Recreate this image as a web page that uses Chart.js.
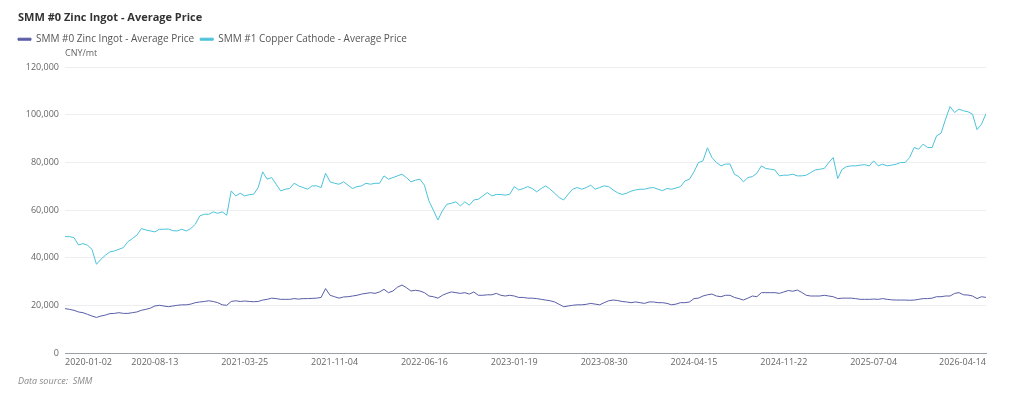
<!DOCTYPE html>
<html>
<head>
<meta charset="utf-8">
<title>SMM #0 Zinc Ingot - Average Price</title>
<script src="https://cdn.jsdelivr.net/npm/chart.js@4"></script>
<style>
  html, body { margin: 0; padding: 0; background: #fff; }
  #wrap { width: 1024px; height: 399px; position: relative; }
</style>
</head>
<body>
<div id="wrap"><canvas id="priceChart"></canvas></div>
<script>
// Tick labels along the x axis (one every 20 samples, last one at the end)
const tickDates = ['2020-01-02', '2020-08-13', '2021-03-25', '2021-11-04', '2022-06-16',
    '2023-01-19', '2023-08-30', '2024-04-15', '2024-11-22', '2025-07-04', '2026-04-14'];
const tickStep = 20;

// SMM #0 Zinc Ingot - Average Price (CNY/mt), sampled along the chart
const zincPrices = [
    18700, 18400, 18000, 17300, 17000, 16300, 15600, 15000, 15600, 16000,
    16600, 16700, 17000, 16700, 16700, 17000, 17300, 18000, 18400, 18900,
    19800, 20100, 19800, 19500, 19800, 20100, 20300, 20300, 20600, 21200,
    21500, 21700, 22000, 21700, 21200, 20300, 20100, 21700, 22000, 21700,
    21900, 21700, 21600, 21700, 22300, 22600, 23100, 22900, 22600, 22600,
    22600, 22900, 22700, 22900, 22900, 23000, 23100, 23400, 27100, 24300,
    23700, 23100, 23600, 23700, 24000, 24300, 24800, 25100, 25400, 25100,
    25700, 26800, 25400, 26100, 27700, 28600, 27500, 26100, 26400, 26100,
    25400, 24000, 23700, 23100, 24300, 25100, 25700, 25400, 25100, 25400,
    24800, 25700, 24300, 24300, 24500, 24500, 25100, 24300, 24000, 24300,
    24000, 23400, 23400, 23100, 23100, 22900, 22600, 22300, 22000, 21500,
    20500, 19500, 19800, 20100, 20300, 20300, 20500, 20900, 20600, 20300,
    21200, 22000, 22300, 22100, 21700, 21500, 21200, 21500, 21200, 20900,
    21500, 21500, 21200, 21200, 20900, 20300, 20600, 21200, 21200, 21500,
    22900, 23100, 24000, 24500, 24800, 24000, 23700, 24300, 24300, 23400,
    22900, 22300, 23100, 24000, 23700, 25400, 25400, 25400, 25400, 25100,
    25700, 26300, 26000, 26500, 25500, 24300, 24000, 24000, 24000, 24300,
    24000, 23700, 22900, 23100, 23100, 23100, 22900, 22600, 22600, 22600,
    22700, 22600, 22900, 22600, 22400, 22300, 22300, 22300, 22200, 22300,
    22600, 22900, 22900, 23100, 23700, 23700, 24000, 24000, 25100, 25400,
    24500, 24400, 24000, 22900, 23700, 23400
];

// SMM #1 Copper Cathode - Average Price (CNY/mt), same sampling
const copperPrices = [
    48900, 48900, 48500, 45400, 46000, 45300, 43600, 37300, 39400, 41100,
    42500, 42900, 43600, 44300, 46800, 48100, 49500, 52300, 51700, 51300,
    50900, 52000, 52000, 52100, 51400, 51300, 52000, 51300, 52300, 54100,
    57600, 58300, 58300, 59300, 58700, 59300, 57900, 68100, 66000, 67100,
    66000, 66500, 66700, 69500, 76100, 73000, 73700, 70900, 68100, 68800,
    69100, 71300, 70200, 69500, 68800, 70200, 70200, 69500, 75500, 71900,
    71300, 70900, 71900, 70500, 69100, 69900, 70200, 71300, 70900, 71300,
    71300, 74400, 73000, 73700, 74400, 75100, 73700, 71900, 72600, 73000,
    70500, 63900, 60000, 55900, 59700, 62500, 62900, 63500, 61800, 63500,
    62100, 64300, 64600, 66000, 67400, 66000, 66600, 66600, 66300, 66700,
    69900, 68500, 69100, 69900, 69100, 67700, 69100, 70200, 68800, 67100,
    65300, 64300, 66700, 68800, 69500, 68800, 69500, 70500, 68800, 69500,
    70200, 69900, 68500, 67300, 66600, 67100, 68000, 68500, 68800, 68800,
    69300, 69500, 68800, 68200, 69100, 68800, 69300, 69900, 72300, 73000,
    76100, 80000, 80700, 86200, 82100, 80000, 78600, 79300, 79400, 75100,
    74100, 71900, 73700, 74100, 75500, 78600, 77500, 77200, 76900, 74400,
    74700, 74700, 75100, 74400, 74400, 74700, 75800, 76900, 77200, 77500,
    80000, 82100, 73300, 77200, 78300, 78600, 78600, 78900, 79100, 78600,
    80700, 78600, 79300, 78600, 78900, 79300, 80000, 80000, 82100, 86300,
    85600, 87700, 86300, 86300, 91200, 92300, 98200, 103500, 101000, 102400,
    101700, 101300, 100300, 93800, 96100, 100500
];

const seriesPoints = values => values.map((v, i) => ({ x: i, y: v }));

// Extra room under the legend for the unit label, legend nudged to the left edge
const legendGap = {
    id: 'legendGap',
    beforeInit(chart) {
        const legend = chart.legend;
        const fit = legend.fit;
        legend.fit = function () {
            fit.bind(legend)();
            this.height += 13;
        };
        const draw = legend.draw;
        legend.draw = function () {
            chart.ctx.save();
            chart.ctx.translate(-6, 0);
            draw.bind(legend)();
            chart.ctx.restore();
        };
    }
};

// "CNY/mt" above the value axis and the data source note under the chart
const notesPlugin = {
    id: 'notes',
    afterDraw(chart) {
        const ctx = chart.ctx;
        const area = chart.chartArea;
        ctx.save();
        ctx.fillStyle = '#666';
        ctx.font = '9px "Open Sans", sans-serif';
        ctx.textAlign = 'left';
        ctx.textBaseline = 'middle';
        ctx.fillText('CNY/mt', area.left, area.top - 14);
        ctx.fillStyle = '#888';
        ctx.font = 'italic 9px "Open Sans", sans-serif';
        ctx.fillText('Data source:  SMM', 18, 381);
        ctx.restore();
    }
};

const lastIndex = zincPrices.length - 1;

const priceChart = new Chart(document.getElementById('priceChart'), {
    type: 'line',
    data: {
        datasets: [{
            label: 'SMM #0 Zinc Ingot - Average Price',
            data: seriesPoints(zincPrices),
            borderColor: '#5a5ea6',
            backgroundColor: '#5a5ea6',
            borderWidth: 1,
            pointRadius: 0,
            tension: 0
        }, {
            label: 'SMM #1 Copper Cathode - Average Price',
            data: seriesPoints(copperPrices),
            borderColor: '#4cc3d9',
            backgroundColor: '#4cc3d9',
            borderWidth: 1,
            pointRadius: 0,
            tension: 0
        }]
    },
    options: {
        responsive: true,
        maintainAspectRatio: false,
        animation: false,
        layout: { padding: { left: 18, right: 38, top: 9, bottom: 27 } },
        plugins: {
            title: {
                display: true,
                text: 'SMM #0 Zinc Ingot - Average Price',
                align: 'start',
                color: '#333',
                font: { family: '"Open Sans", sans-serif', size: 11, weight: 'bold' },
                padding: { top: 2, bottom: 4 }
            },
            legend: {
                align: 'start',
                labels: {
                    boxWidth: 13,
                    boxHeight: 2,
                    color: '#555',
                    font: { family: '"Open Sans", sans-serif', size: 10 },
                    padding: 6
                }
            },
            tooltip: { enabled: false }
        },
        scales: {
            x: {
                type: 'linear',
                min: 0,
                max: lastIndex,
                afterBuildTicks: scale => {
                    const ticks = [];
                    for (let i = 0; i < tickDates.length - 1; i++) ticks.push({ value: i * tickStep });
                    ticks.push({ value: lastIndex });
                    scale.ticks = ticks;
                },
                grid: { display: false, drawTicks: false },
                border: { display: true, color: '#9aa0a8' },
                ticks: {
                    autoSkip: false,
                    maxRotation: 0,
                    align: 'inner',
                    color: '#666',
                    font: { family: '"Open Sans", sans-serif', size: 9 },
                    padding: 4,
                    callback: (value, index) => tickDates[index]
                }
            },
            y: {
                min: 0,
                max: 120000,
                afterFit: scale => { scale.width = 47; },
                ticks: {
                    stepSize: 20000,
                    color: '#666',
                    font: { family: '"Open Sans", sans-serif', size: 9 },
                    padding: 6,
                    callback: value => value.toLocaleString('en-US')
                },
                grid: { color: '#eceef2', drawTicks: false },
                border: { display: false }
            }
        }
    },
    plugins: [legendGap, notesPlugin]
});
</script>
</body>
</html>
